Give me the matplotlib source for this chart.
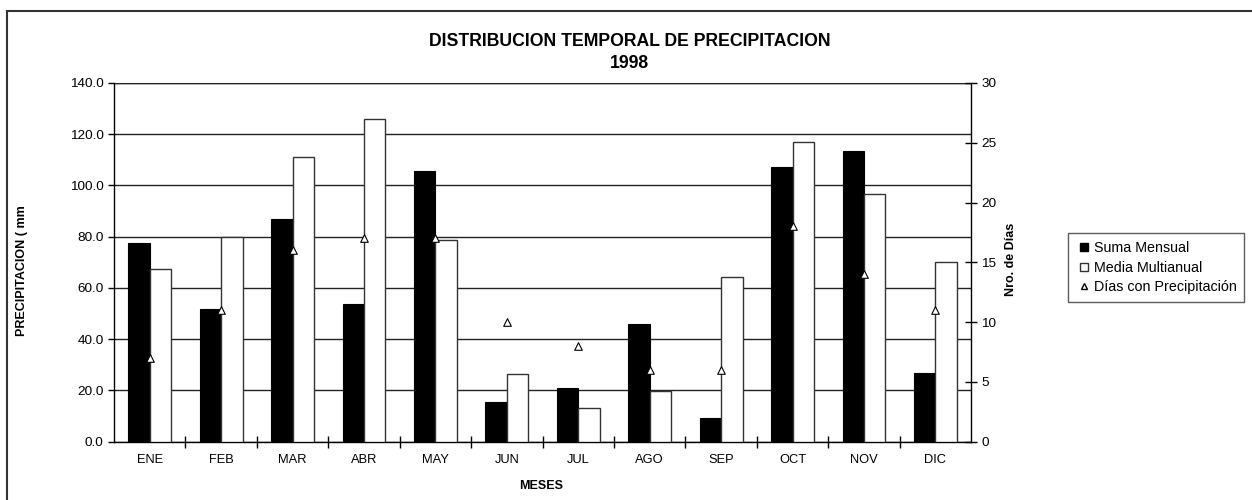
import numpy as np
import matplotlib.pyplot as plt
from matplotlib.patches import Rectangle
from matplotlib.lines import Line2D

plt.rcParams["font.family"] = ["Liberation Sans", "DejaVu Sans"]

# ── datos ──────────────────────────────────────────────────────────────
meses = ["ENE", "FEB", "MAR", "ABR", "MAY", "JUN",
         "JUL", "AGO", "SEP", "OCT", "NOV", "DIC"]
suma_mensual = [77.4, 51.7, 86.8, 53.6, 105.7, 15.4,
                21.1, 45.9, 9.4, 107.3, 113.6, 26.8]
media_multianual = [67.3, 79.8, 111.2, 125.8, 78.8, 26.3,
                    13.0, 19.9, 64.2, 116.9, 96.8, 70.3]
dias_precip = [7, 11, 16, 17, 17, 10, 8, 6, 6, 18, 14, 11]

fig = plt.figure(figsize=(12.52, 5.0), dpi=100)
ax = fig.add_axes([0.0911, 0.1166, 0.6845, 0.7174])

x = np.arange(len(meses))
w = 0.30
ax.bar(x - w / 2, suma_mensual, w, color="black", edgecolor="black",
       linewidth=0.8, zorder=3)
ax.bar(x + w / 2, media_multianual, w, color="white", edgecolor="#333333",
       linewidth=1.0, zorder=3)

ax.set_xlim(-0.5, len(meses) - 0.5)
ax.set_ylim(0, 140)
ax.set_yticks(np.arange(0, 141, 20))
ax.set_yticklabels([f"{v:.1f}" for v in np.arange(0, 141, 20)], fontsize=9.7)
ax.yaxis.grid(True, color="#222222", linewidth=1.0, zorder=0)
ax.set_axisbelow(True)

# ticks de categoria entre meses
ax.set_xticks(x)
ax.set_xticklabels(meses, fontsize=9.3)
ax.tick_params(axis="x", which="major", length=0, pad=9)
ax.set_xticks(np.arange(0.5, len(meses) - 0.5, 1), minor=True)
ax.tick_params(axis="x", which="minor", direction="inout", length=8, width=1)
ax.tick_params(axis="y", direction="out", length=4, width=1)

for s in ["top", "right"]:
    ax.spines[s].set_visible(False)
ax.spines["left"].set_linewidth(1.0)
ax.spines["bottom"].set_linewidth(1.0)
ax.axhline(140, color="#222222", linewidth=1.0, zorder=1)

ax.set_ylabel("PRECIPITACION ( mm", fontsize=9, fontweight="bold")
ax.yaxis.set_label_coords(-0.1003, 0.477)
ax.set_xlabel("MESES", fontsize=9, fontweight="bold")
ax.xaxis.set_label_coords(0.498, -0.106)

# eje secundario: dias con precipitacion
ax2 = ax.twinx()
ax2.set_ylim(0, 30)
ax2.scatter(x, dias_precip, marker="^", s=30, facecolors="white",
            edgecolors="black", linewidths=0.8, zorder=4)
ax2.set_yticks(np.arange(0, 31, 5))
ax2.tick_params(axis="y", direction="inout", length=8, width=1, labelsize=9.7)
for s in ["top", "left", "bottom"]:
    ax2.spines[s].set_visible(False)
ax2.spines["right"].set_linewidth(1.0)
ax2.set_ylabel("Nro. de Días", fontsize=9, fontweight="bold")
ax2.yaxis.set_label_coords(1.0397, 0.509)

# titulo centrado en el area del grafico
fig.text(0.503, 0.918, "DISTRIBUCION TEMPORAL DE PRECIPITACION",
         ha="center", va="center", fontsize=12.7, fontweight="bold")
fig.text(0.503, 0.874, "1998", ha="center", va="center",
         fontsize=12.7, fontweight="bold")

handles = [
    Line2D([0], [0], marker="s", ls="none", markersize=5.5,
           markerfacecolor="black", markeredgecolor="black"),
    Line2D([0], [0], marker="s", ls="none", markersize=5.5,
           markerfacecolor="white", markeredgecolor="#333333"),
    Line2D([0], [0], marker="^", ls="none", markersize=5,
           markerfacecolor="white", markeredgecolor="black"),
]
leg = fig.legend(handles, ["Suma Mensual", "Media Multianual",
                           "Días con Precipitación"],
                 loc="upper left", bbox_to_anchor=(0.853, 0.534),
                 borderaxespad=0, fontsize=10.3, frameon=True, fancybox=False,
                 handlelength=1.1, handletextpad=0.15, borderpad=0.55,
                 labelspacing=0.4)
leg.get_frame().set_edgecolor("#333333")
leg.get_frame().set_linewidth(1.0)

# marco exterior (cortado a derecha y abajo)
fig.patches.append(Rectangle((7 / 1252, -0.1), 1.2, 0.1 + (500 - 11) / 500,
                             transform=fig.transFigure, fill=False,
                             edgecolor="#333333", linewidth=1.5))

fig.savefig("out.png", dpi=100)
